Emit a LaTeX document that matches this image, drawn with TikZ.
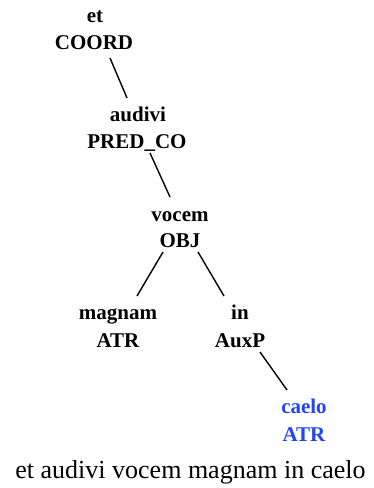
\documentclass[tikz,border=0pt]{standalone}
\usepackage{fontspec}
\setmainfont{Liberation Serif}
\begin{document}
\begin{tikzpicture}[x=1pt,y=-1pt,
  lab/.style={font=\bfseries\fontsize{21}{24}\selectfont, anchor=base, inner sep=0pt},
  edge/.style={line width=1.4pt},
  blu/.style={text={rgb,255:red,34;green,68;blue,255}}]
\useasboundingbox (0,0) rectangle (373,488);
\node[lab] (et1) at (95,22) {et};
\node[lab] (et2) at (94,49) {COORD};
\node[lab] (au1) at (138,121) {audivi};
\node[lab] (au2) at (137,148) {PRED\_CO};
\node[lab] (vo1) at (180,221) {vocem};
\node[lab] (vo2) at (180,247) {OBJ};
\node[lab] (ma1) at (118,319) {magnam};
\node[lab] (ma2) at (118,347) {ATR};
\node[lab] (in1) at (240,319) {in};
\node[lab] (in2) at (240,347) {AuxP};
\node[lab,blu] (ca1) at (304,413) {caelo};
\node[lab,blu] (ca2) at (304,441) {ATR};
\node[font=\fontsize{26}{30}\selectfont, anchor=base, inner sep=0pt] (sent) at (190.5,478) {et audivi vocem magnam in caelo};
\coordinate (a1) at (110,58); \coordinate (a2) at (127,98);
\coordinate (b1) at (150,153); \coordinate (b2) at (170,197);
\coordinate (c1) at (163,252); \coordinate (c2) at (137,296);
\coordinate (d1) at (198,252); \coordinate (d2) at (224,296);
\coordinate (e1) at (260,352); \coordinate (e2) at (287,390);
\draw[edge] (a1) -- (a2);
\draw[edge] (b1) -- (b2);
\draw[edge] (c1) -- (c2);
\draw[edge] (d1) -- (d2);
\draw[edge] (e1) -- (e2);
\end{tikzpicture}
\end{document}
